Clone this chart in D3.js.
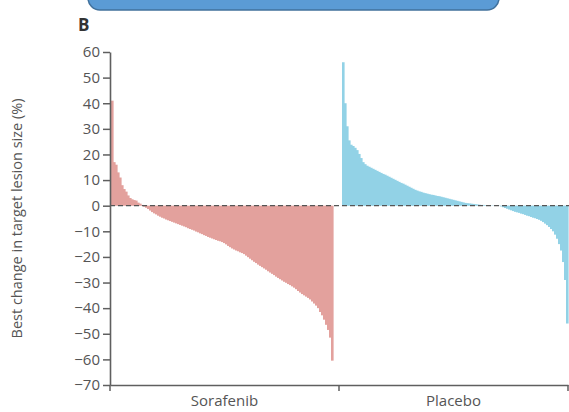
<!DOCTYPE html>
<html>
<head>
<meta charset="utf-8">
<script src="https://cdn.jsdelivr.net/npm/d3@7"></script>
<style>
  body { margin: 0; background: #fff; }
  svg { display: block; font-family: "Open Sans", sans-serif; }
</style>
</head>
<body>
<div id="chart"></div>
<script>
// groups on the x axis
const groups = ["Sorafenib", "Placebo"];

// y ticks
const yTicks = [60, 50, 40, 30, 20, 10, 0, -10, -20, -30, -40, -50, -60, -70];

// best change in target lesion size (%), one bar per patient, sorted
const sorafenib = [
    41, 17, 16, 13, 11, 8, 6.5, 5.5, 4, 3, 2.5, 2.2, 2, 1.2, 0.8, 0.3,
    -0.4, -0.8, -1.3, -1.9, -2.5, -3.0, -3.4, -3.9, -4.3, -4.7,
    -5.0, -5.4, -5.7, -6.0, -6.3, -6.6, -6.9, -7.2, -7.5, -7.8,
    -8.1, -8.4, -8.8, -9.1, -9.4, -9.7, -10.1, -10.4, -10.8, -11.1,
    -11.5, -11.8, -12.2, -12.5, -12.8, -13.1, -13.4, -13.7, -13.9, -14.2,
    -14.6, -15.1, -15.7, -16.2, -16.7, -17.1, -17.5, -17.8, -18.2, -18.5,
    -18.9, -19.5, -20.1, -20.7, -21.3, -21.9, -22.4, -23.0, -23.5, -24.0,
    -24.5, -25.0, -25.6, -26.1, -26.6, -27.1, -27.7, -28.2, -28.7, -29.2,
    -29.7, -30.1, -30.6, -31.0, -31.5, -32.0, -32.6, -33.3, -33.9, -34.5,
    -35.0, -35.5, -36.0, -36.6, -37.4, -38.2, -39.0, -40.0, -41.5, -42.8,
    -44.5, -46.5, -48.5, -51.5, -60.5
];

const placebo = [
    56, 40, 31, 25.5, 23.8, 23.3, 22.6, 21.7, 20.2, 18.6,
    17.0, 16.2, 15.6, 15.2, 14.8, 14.4, 14.0, 13.6, 13.2, 12.8,
    12.4, 12.1, 11.7, 11.3, 10.9, 10.5, 10.1, 9.7, 9.3, 8.9,
    8.6, 8.2, 7.8, 7.4, 7.0, 6.6, 6.2, 5.9, 5.6, 5.4,
    5.1, 4.9, 4.7, 4.5, 4.3, 4.2, 4.0, 3.8, 3.7, 3.5,
    3.3, 3.1, 2.9, 2.7, 2.5, 2.3, 2.1, 1.9, 1.7, 1.5,
    1.3, 1.1, 1.0, 0.9, 0.8, 0.7, 0.6, 0.5, 0.4, 0.3,
    0.3, 0.2, 0.2, 0.1, 0.1, 0.1, 0, 0, -0.1, -0.3,
    -0.6, -0.9, -1.2, -1.5, -1.8, -2.1, -2.4, -2.6, -2.8, -3.1,
    -3.3, -3.6, -3.9, -4.1, -4.4, -4.7, -4.9, -5.2, -5.5, -5.9,
    -6.4, -7.0, -7.6, -8.3, -9.1, -10.0, -11.3, -12.9, -15.0, -17.5,
    -22, -29, -46
];

const width = 569, height = 412;
const axisColor = "#5f5f5f";
const textColor = "#555";

const svg = d3.select("#chart").append("svg")
    .attr("width", width)
    .attr("height", height);

// blue banner cut off at the top
svg.append("rect")
    .attr("x", 88).attr("y", -20)
    .attr("width", 411).attr("height", 30)
    .attr("rx", 12)
    .attr("fill", "#5b9bd5")
    .attr("stroke", "#41719c")
    .attr("stroke-width", 1.5);

svg.append("text")
    .attr("x", 78).attr("y", 31)
    .attr("font-size", 17).attr("font-weight", "bold")
    .attr("fill", "#333")
    .text("B");

// scales
let x = d3.scaleBand().domain(groups).range([110, 568]).padding(0);
let y = d3.scaleLinear().domain([-70, 60]).range([385, 52]);

let series = [
    {name: "Sorafenib", values: sorafenib, color: "#e3a19d", pad: [1, 6]},
    {name: "Placebo", values: placebo, color: "#92d2e6", pad: [3, 0]}
];

// bars
for (let s of series) {
    let x0 = x(s.name);
    let inner = d3.scaleBand()
        .domain(d3.range(s.values.length))
        .range([x0 + s.pad[0], x0 + x.bandwidth() - s.pad[1]]);

    svg.append("g")
        .selectAll("rect")
        .data(s.values)
        .join("rect")
        .attr("x", (d, i) => inner(i))
        .attr("width", inner.bandwidth() + 0.6)
        .attr("y", d => y(Math.max(0, d)))
        .attr("height", d => Math.abs(y(d) - y(0)))
        .attr("fill", s.color);
}

// zero line
svg.append("line")
    .attr("x1", 110).attr("x2", width)
    .attr("y1", y(0)).attr("y2", y(0))
    .attr("stroke", "#555")
    .attr("stroke-width", 1.2)
    .attr("stroke-dasharray", "5,3");

// y axis
let yAxis = svg.append("g")
    .attr("transform", "translate(110,0)")
    .call(d3.axisLeft(y).tickValues(yTicks).tickSize(7).tickSizeOuter(0).tickPadding(3));

// x axis
let xAxis = svg.append("g")
    .attr("transform", "translate(0," + y(-70) + ")")
    .call(d3.axisBottom(x).tickSize(0).tickSizeOuter(0).tickPadding(10));

// boundary ticks of the groups
xAxis.selectAll(".bound")
    .data([x.range()[0], x("Placebo"), x.range()[1]])
    .join("line")
    .attr("class", "bound")
    .attr("x1", d => d).attr("x2", d => d)
    .attr("y1", 0).attr("y2", 6)
    .attr("stroke", axisColor)
    .attr("stroke-width", 1.5);

for (let g of [yAxis, xAxis]) {
    g.select(".domain").attr("stroke", axisColor).attr("stroke-width", 1.6);
    g.selectAll(".tick line").attr("stroke", axisColor).attr("stroke-width", 1.5);
    g.selectAll("text")
        .attr("fill", textColor)
        .attr("font-family", "Open Sans, sans-serif")
        .attr("font-size", 15);
}

// axis title
svg.append("text")
    .attr("transform", "translate(22," + y(-5) + ") rotate(-90)")
    .attr("text-anchor", "middle")
    .attr("fill", textColor)
    .attr("font-size", 14.5)
    .text("Best change in target lesion size (%)");
</script>
</body>
</html>
